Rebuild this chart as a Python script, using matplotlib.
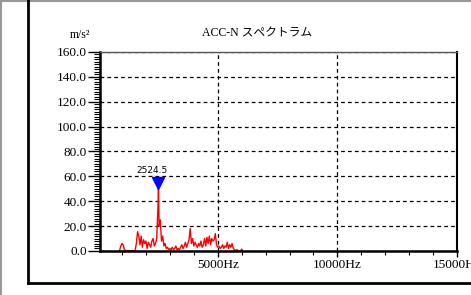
import numpy as np
import matplotlib as mpl
mpl.use('Agg')
import matplotlib.pyplot as plt
from matplotlib.lines import Line2D
from matplotlib.ticker import MultipleLocator, FixedLocator
import matplotlib.transforms as mtransforms

plt.rcParams['font.family'] = ['Liberation Serif', 'Noto Sans CJK JP']

# spectrum (Hz, m/s^2)
freq = [900, 950, 1000, 1050, 1100, 1150, 1200, 1250, 1300, 1350, 1400, 1450,
        1500, 1550, 1600, 1650, 1700, 1750, 1800, 1850, 1900, 1950, 2000, 2050,
        2100, 2150, 2200, 2250, 2300, 2350, 2400, 2450, 2500, 2524.5, 2550, 2600,
        2650, 2700, 2750, 2800, 2850, 2900, 2950, 3000, 3050, 3100, 3150, 3200,
        3250, 3300, 3350, 3400, 3450, 3500, 3550, 3600, 3650, 3700, 3750, 3800,
        3850, 3900, 3950, 4000, 4050, 4100, 4150, 4200, 4250, 4300, 4350, 4400,
        4450, 4500, 4550, 4600, 4650, 4700, 4750, 4800, 4850, 4900, 4950, 5000,
        5050, 5100, 5150, 5200, 5250, 5300, 5350, 5400, 5450, 5500, 5550, 5600,
        5650, 5700, 5750, 5800, 5850, 5900, 5950, 6000, 6050]
amp = [0.5, 4, 6, 5, 1, 0.5, 0, 0.5, 0, 0.3, 0, 0.5,
       0, 0.5, 6, 15.5, 12, 5, 12, 3, 9, 6, 8, 2,
       7, 5, 3, 8, 10, 4, 6, 10, 34, 50, 20, 25,
       8, 12, 4, 6, 2, 3, 1, 2, 1, 3, 1, 2,
       4, 1, 2, 1, 3, 5, 2, 4, 7, 3, 6, 9,
       18, 6, 10, 4, 7, 5, 3, 6, 4, 8, 3, 5,
       10, 4, 11, 6, 12, 5, 10, 8, 9, 14, 5, 3,
       4, 2, 3, 5, 2, 4, 3, 7, 2, 5, 3, 6,
       2, 1, 0.5, 1, 0.5, 0, 0, 1.5, 0]

peak_freq = 2524.5
peak_amp = 50
peak_label = '2524.5'

y_ticks = [0, 20, 40, 60, 80, 100, 120, 140, 160]
x_ticks = [5000, 10000, 15000]

fig = plt.figure(figsize=(4.71, 2.95), dpi=100)

# outer frame
fig.add_artist(Line2D([0.003, 0.003], [0, 1], color='#999999', lw=1.5))
fig.add_artist(Line2D([0, 1], [0.997, 0.997], color='#999999', lw=1.5))
fig.add_artist(Line2D([0.0594, 0.0594], [0.04, 1], color='black', lw=2))
fig.add_artist(Line2D([0.0594, 1], [0.0407, 0.0407], color='black', lw=2))

ax = fig.add_axes([0.2123, 0.1492, 0.758, 0.6746])
ax.plot(freq, amp, color='red', lw=1.0)
ax.plot([peak_freq], [peak_amp], marker='v', color='#0000ff', markersize=9,
        transform=mtransforms.offset_copy(ax.transData, fig=fig, y=4, units='points'))
ax.text(peak_freq, peak_amp, peak_label, fontsize=6.5, family='DejaVu Sans',
        ha='center', va='bottom',
        transform=mtransforms.offset_copy(ax.transData, fig=fig, x=-5, y=10, units='points'))

ax.set_xlim(80, 15000)
ax.set_ylim(0, 160)
ax.set_yticks(y_ticks)
ax.set_yticklabels(['%.1f' % v for v in y_ticks])
ax.yaxis.set_minor_locator(MultipleLocator(2))
ax.set_xticks(x_ticks)
ax.set_xticklabels(['%dHz' % v for v in x_ticks])
ax.xaxis.set_minor_locator(FixedLocator(np.arange(1000, 15000, 1000)))

ax.tick_params(axis='y', which='major', length=8.5, width=1, labelsize=9.5, pad=1)
ax.tick_params(axis='y', which='minor', length=4, width=0.8)
ax.tick_params(axis='x', which='major', length=4, width=1, labelsize=9.5, pad=2)
ax.tick_params(axis='x', which='minor', length=3, width=0.8)

ax.grid(True, which='major', color='black', linestyle=(0, (3, 2.5)), lw=0.9)
ax.spines['left'].set_linewidth(1.8)
ax.spines['bottom'].set_linewidth(1.8)
ax.spines['right'].set_linewidth(1.5)
ax.spines['top'].set_color('#555555')
ax.spines['top'].set_linewidth(1)

fig.text(257 / 471, 1 - 33 / 295, 'ACC-N スペクトラム', fontsize=8.5,
         ha='center', va='center')
fig.text(80 / 471, 1 - 35 / 295, 'm/s²', fontsize=8.5, ha='center', va='center')

plt.savefig('out.png', dpi=100)
